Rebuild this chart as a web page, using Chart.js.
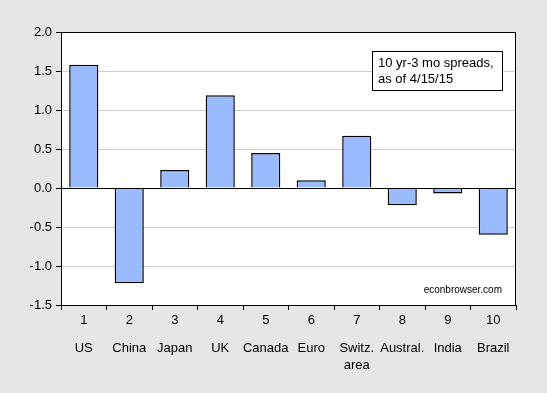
<!DOCTYPE html>
<html>
<head>
<meta charset="utf-8">
<script src="https://cdn.jsdelivr.net/npm/chart.js@4/dist/chart.umd.min.js"></script>
<style>
  html, body { margin: 0; padding: 0; background: #e6e6e6; }
  #wrap { width: 547px; height: 393px; position: relative; }
</style>
</head>
<body>
<div id="wrap"><canvas id="c" width="547" height="393"></canvas></div>
<script>
const categoryNumbers = ["1", "2", "3", "4", "5", "6", "7", "8", "9", "10"];
const countryNames = ["US", "China", "Japan", "UK", "Canada", "Euro", ["Switz.", "area"], "Austral.", "India", "Brazil"];
const spreads = [1.58, -1.22, 0.23, 1.19, 0.45, 0.10, 0.67, -0.22, -0.07, -0.60];
const yTicks = [-1.5, -1.0, -0.5, 0.0, 0.5, 1.0, 1.5, 2.0];
const noteLines = ["10 yr-3 mo spreads,", "as of 4/15/15"];
const sourceText = "econbrowser.com";

const FONT = "'Liberation Sans', Arial, sans-serif";

const decorPlugin = {
  id: 'decor',
  beforeDraw(chart) {
    const { ctx, chartArea: a } = chart;
    ctx.save();
    ctx.fillStyle = '#e6e6e6';
    ctx.fillRect(0, 0, chart.width, chart.height);
    ctx.fillStyle = '#ffffff';
    ctx.fillRect(a.left, a.top, a.right - a.left, a.bottom - a.top);
    ctx.restore();
  },
  afterDatasetsDraw(chart) {
    // redraw zero line over bar bases
    const { ctx, chartArea: a, scales } = chart;
    const y0 = Math.round(scales.y.getPixelForValue(0)) + 0.5;
    ctx.save();
    ctx.strokeStyle = '#000';
    ctx.lineWidth = 1;
    ctx.beginPath();
    ctx.moveTo(a.left, y0);
    ctx.lineTo(a.right, y0);
    ctx.stroke();
    ctx.restore();
  },
  afterDraw(chart) {
    const { ctx, chartArea: a } = chart;
    ctx.save();
    ctx.strokeStyle = '#000';
    ctx.lineWidth = 1;
    ctx.strokeRect(Math.round(a.left) + 0.5, Math.round(a.top) + 0.5,
                   Math.round(a.right - a.left) - 1, Math.round(a.bottom - a.top));
    // note box
    const bx = 372, by = 51, bw = 130, bh = 39;
    ctx.fillStyle = '#fff';
    ctx.fillRect(bx, by, bw, bh);
    ctx.strokeRect(bx + 0.5, by + 0.5, bw, bh);
    ctx.fillStyle = '#000';
    ctx.font = '13px ' + FONT;
    ctx.textAlign = 'left';
    ctx.textBaseline = 'middle';
    ctx.fillText(noteLines[0], bx + 6, by + 12);
    ctx.fillText(noteLines[1], bx + 6, by + 28);
    // source
    ctx.font = '10px ' + FONT;
    ctx.textAlign = 'right';
    ctx.fillText(sourceText, 502, 290);
    ctx.restore();
  }
};

new Chart(document.getElementById('c'), {
  type: 'bar',
  data: {
    labels: categoryNumbers,
    datasets: [{
      data: spreads,
      backgroundColor: '#99bbfd',
      borderColor: '#000',
      borderWidth: 1.5,
      borderSkipped: 'start',
      categoryPercentage: 1.0,
      barPercentage: 0.64,
      xAxisID: 'x',
      yAxisID: 'y'
    }]
  },
  options: {
    responsive: false,
    animation: false,
    devicePixelRatio: 1,
    layout: { padding: { top: 32, right: 31, bottom: 0, left: 0 } },
    plugins: { legend: { display: false }, tooltip: { enabled: false } },
    scales: {
      x: {
        type: 'category',
        position: 'bottom',
        weight: 0,
        offset: true,
        grid: { display: true, drawOnChartArea: false, offset: true, tickLength: 5, color: '#000', tickColor: '#000' },
        border: { display: true, color: '#000' },
        ticks: { color: '#000', font: { family: FONT, size: 13 }, padding: 3, maxRotation: 0, autoSkip: false },
        afterFit(s) { s.height = 24; }
      },
      x2: {
        type: 'category',
        position: 'bottom',
        weight: 1,
        labels: countryNames,
        offset: true,
        grid: { display: false },
        border: { display: false },
        ticks: { color: '#000', font: { family: FONT, size: 13, lineHeight: '17px' }, padding: 3, maxRotation: 0, autoSkip: false },
        afterFit(s) { s.height = 64; }
      },
      y: {
        min: -1.5,
        max: 2.0,
        afterBuildTicks(s) { s.ticks = yTicks.map(v => ({ value: v })); },
        grid: {
          tickLength: 5,
          tickColor: '#000',
          color: (c) => (c.tick && c.tick.value === 0) ? '#000' : '#d0d0d0'
        },
        border: { display: true, color: '#000' },
        ticks: {
          color: '#000',
          font: { family: FONT, size: 13 },
          padding: 4,
          callback: (v) => Number(v).toFixed(1)
        },
        afterFit(s) { s.width = 61; }
      }
    }
  },
  plugins: [decorPlugin]
});
</script>
</body>
</html>
